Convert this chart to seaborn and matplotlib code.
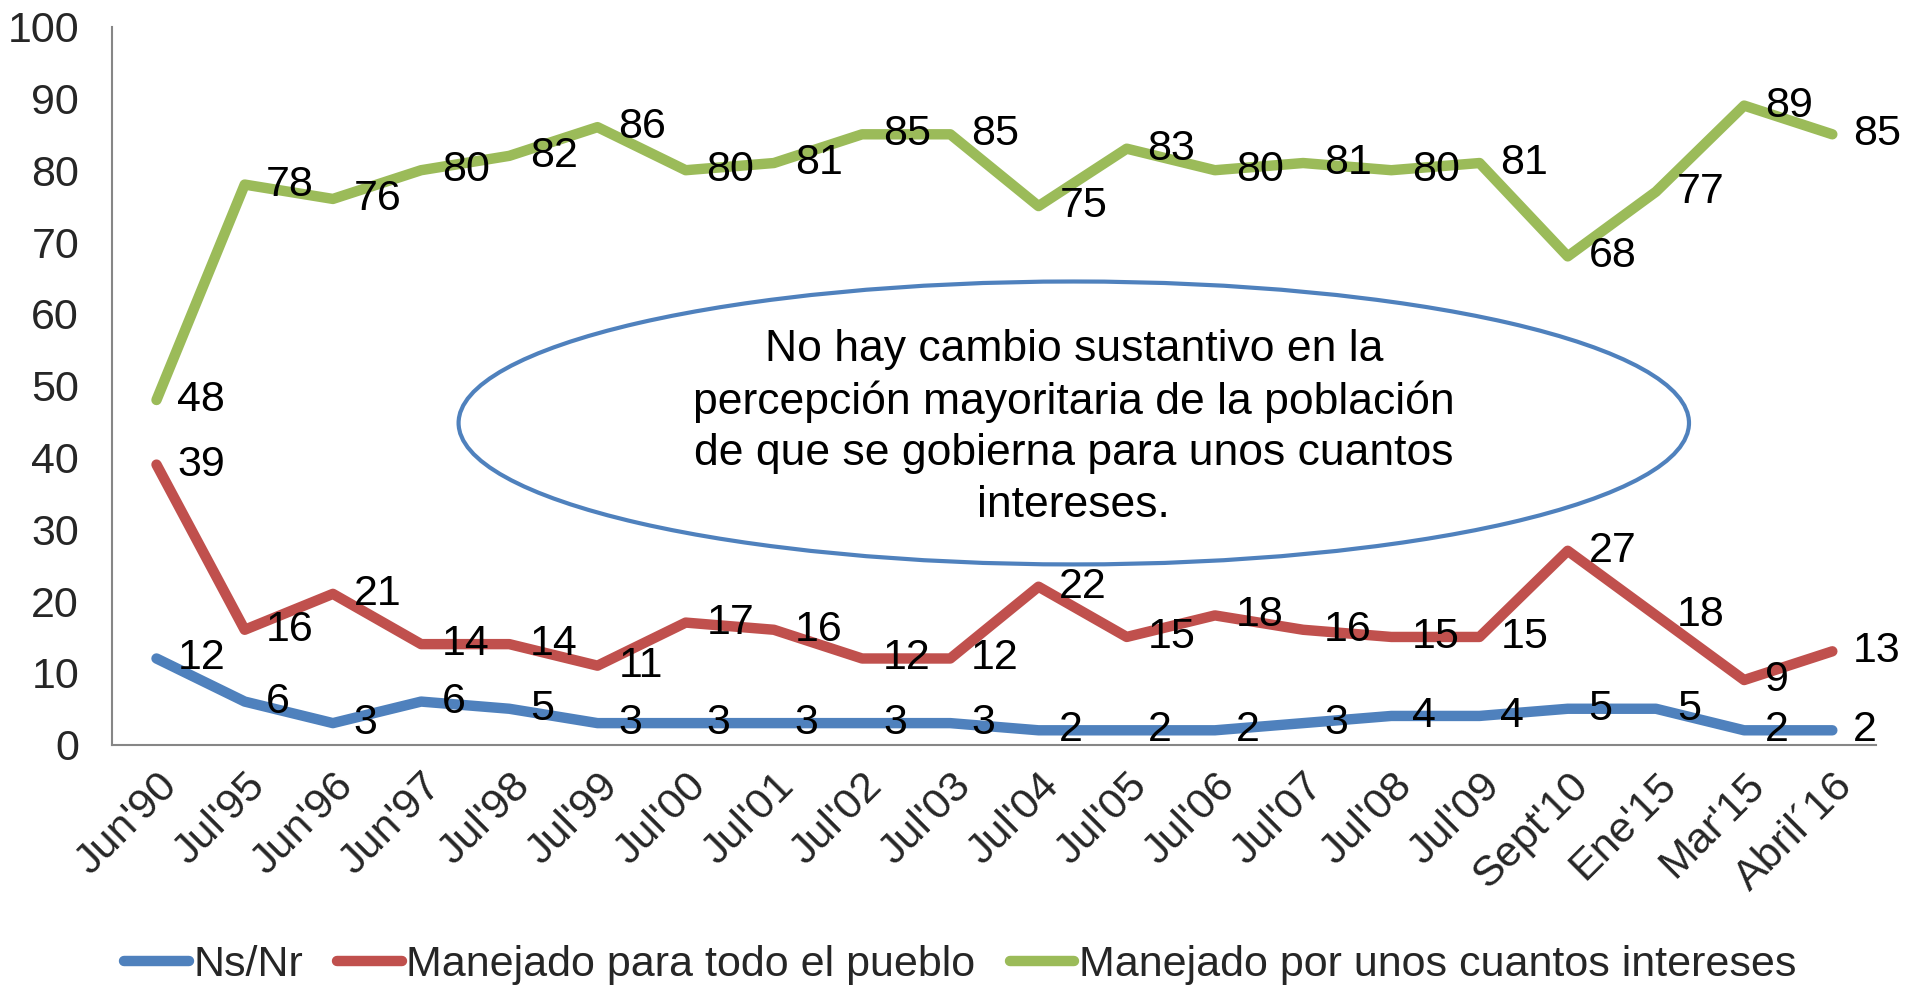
import numpy as np
import pandas as pd
import matplotlib
matplotlib.use('Agg')
import matplotlib.pyplot as plt
from matplotlib.patches import Ellipse
import seaborn as sns

# survey waves
periods = ["Jun'90", "Jul'95", "Jun'96", "Jun'97", "Jul'98", "Jul'99", "Jul'00",
           "Jul'01", "Jul'02", "Jul'03", "Jul'04", "Jul'05", "Jul'06", "Jul'07",
           "Jul'08", "Jul'09", "Sept'10", "Ene'15", "Mar'15", "Abril´16"]

ns_nr = [12, 6, 3, 6, 5, 3, 3, 3, 3, 3, 2, 2, 2, 3, 4, 4, 5, 5, 2, 2]
todo_pueblo = [39, 16, 21, 14, 14, 11, 17, 16, 12, 12, 22, 15, 18, 16, 15, 15, 27, 18, 9, 13]
unos_cuantos = [48, 78, 76, 80, 82, 86, 80, 81, 85, 85, 75, 83, 80, 81, 80, 81, 68, 77, 89, 85]

series_names = ["Ns/Nr", "Manejado para todo el pueblo", "Manejado por unos cuantos intereses"]
colors = ["#4F81BD", "#C0504D", "#9BBB59"]

note = ("No hay cambio sustantivo en la\n"
        "percepción mayoritaria de la población\n"
        "de que se gobierna para unos cuantos\n"
        "intereses.")

pos = np.arange(len(periods))
df = pd.concat([
    pd.DataFrame({"pos": pos, "valor": vals, "serie": name})
    for name, vals in zip(series_names, [ns_nr, todo_pueblo, unos_cuantos])
])

sns.set_style("white")
plt.rcParams['font.family'] = ['Liberation Sans', 'DejaVu Sans']
FS = 31

fig = plt.figure(figsize=(19.05, 9.85), dpi=100)
ax = fig.add_axes([0.059, 0.244, 0.926, 0.729])

sns.lineplot(data=df, x="pos", y="valor", hue="serie", hue_order=series_names,
             palette=colors, linewidth=7.5, sort=False, ax=ax,
             solid_capstyle='round', solid_joinstyle='round')

# data labels to the right of each point
for name, vals in zip(series_names, [ns_nr, todo_pueblo, unos_cuantos]):
    for x, v in zip(pos, vals):
        ax.annotate(str(v), (x, v), xytext=(15, 0), textcoords='offset points',
                    ha='left', va='center', fontsize=FS, color='black')

# callout ellipse with note
ax.add_patch(Ellipse((10.4, 44.8), 13.95, 39.4, fill=False,
                     edgecolor="#4F81BD", linewidth=3))
ax.text(10.4, 44.2, note, ha='center', va='center', fontsize=32,
        linespacing=1.32, color='black')

ax.set_xlim(-0.5, len(periods) - 0.5)
ax.set_ylim(0, 100)
ax.set_yticks(range(0, 101, 10))
ax.set_xticks(pos)
ax.set_xticklabels(periods, rotation=45, ha='right', rotation_mode='anchor')
ax.tick_params(axis='both', length=0, labelsize=FS)
ax.tick_params(axis='y', pad=24)
ax.tick_params(axis='x', pad=15)
ax.set_xlabel("")
ax.set_ylabel("")

for side in ["top", "right"]:
    ax.spines[side].set_visible(False)
for side in ["left", "bottom"]:
    ax.spines[side].set_color("#868686")
    ax.spines[side].set_linewidth(1.5)

handles, labels = ax.get_legend_handles_labels()
for h in handles:
    h.set_solid_capstyle('round')
ax.legend(handles, labels, loc='lower center', bbox_to_anchor=(0.504, -0.022),
          bbox_transform=fig.transFigure, ncol=3, frameon=False, fontsize=FS,
          handlelength=1.5, handletextpad=0.1, columnspacing=0.8,
          borderaxespad=0.1)

fig.savefig("out.png", dpi=100)
